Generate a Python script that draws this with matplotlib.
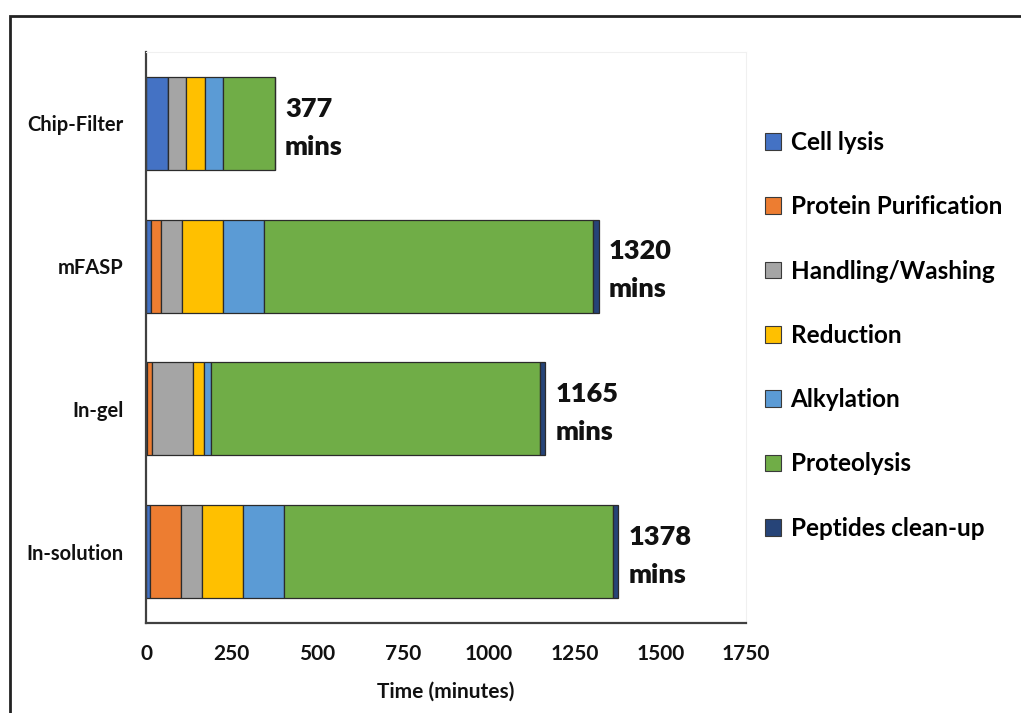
import matplotlib
matplotlib.use("Agg")
import matplotlib.pyplot as plt
from matplotlib.patches import Rectangle, Patch

plt.rcParams['font.family'] = ['Lato', 'DejaVu Sans']
plt.rcParams['font.weight'] = 'bold'

methods = ["Chip-Filter", "mFASP", "In-gel", "In-solution"]
steps = ["Cell lysis", "Protein Purification", "Handling/Washing", "Reduction",
         "Alkylation", "Proteolysis", "Peptides clean-up"]
colors = ["#4472C4", "#ED7D31", "#A5A5A5", "#FFC000", "#5B9BD5", "#70AD47", "#264478"]

cell_lysis = [63, 15, 3, 13]
protein_purification = [0, 30, 15, 90]
handling_washing = [54, 60, 120, 60]
reduction = [55, 120, 30, 120]
alkylation = [53, 120, 22, 120]
proteolysis = [152, 960, 960, 960]
peptides_cleanup = [0, 15, 15, 15]
totals = [377, 1320, 1165, 1378]

series = [cell_lysis, protein_purification, handling_washing, reduction,
          alkylation, proteolysis, peptides_cleanup]

fig = plt.figure(figsize=(10.21, 7.13), dpi=100)
ax = fig.add_axes([146/1021, 1 - 623/713, 600/1021, 571/713])

ypos = list(range(len(methods)))
left = [0] * len(methods)
for name, vals, c in zip(steps, series, colors):
    ax.barh(ypos, vals, left=left, height=0.65, color=c, edgecolor="#2b2b2b",
            linewidth=0.9, label=name)
    left = [l + v for l, v in zip(left, vals)]

for y, t in zip(ypos, totals):
    ax.annotate(f"{t}\nmins", xy=(t, y), xytext=(7, -3), textcoords="offset points",
                ha="left", va="center", fontsize=19.5, fontweight="heavy",
                linespacing=1.7, color="#111111")

ax.set_xlim(0, 1750)
ax.set_ylim(3.5, -0.5)
ax.set_xticks(range(0, 1751, 250))
ax.set_yticks(ypos)
ax.set_yticklabels(methods)
ax.tick_params(axis="both", length=0, colors="#111111")
ax.tick_params(axis="y", pad=16, labelsize=14.5)
ax.tick_params(axis="x", pad=15, labelsize=15)
for lab in ax.get_xticklabels() + ax.get_yticklabels():
    lab.set_fontweight("bold")
ax.set_xlabel("Time (minutes)", fontsize=15, fontweight="bold", labelpad=13, color="#111111")

for s in ["left", "bottom"]:
    ax.spines[s].set_color("#404040")
    ax.spines[s].set_linewidth(1.6)
for s in ["top", "right"]:
    ax.spines[s].set_color("#f0f0f0")
    ax.spines[s].set_linewidth(0.8)

handles = [Patch(facecolor=c, edgecolor="#3a3a3a", linewidth=0.8) for c in colors]
fig.legend(handles, steps, loc="upper left", bbox_to_anchor=(743/1021, 1 - 109/713),
           frameon=False, handlelength=0.68, handleheight=0.68,
           handletextpad=0.38, labelspacing=1.7, prop={"weight": "bold", "size": 17.5})

fig.patches.append(Rectangle((10/1021, -0.1), 1.2, 1 - 16/713 + 0.1,
                             transform=fig.transFigure, fill=False,
                             edgecolor="#222222", linewidth=2.0))

fig.savefig("out.png", dpi=100)
